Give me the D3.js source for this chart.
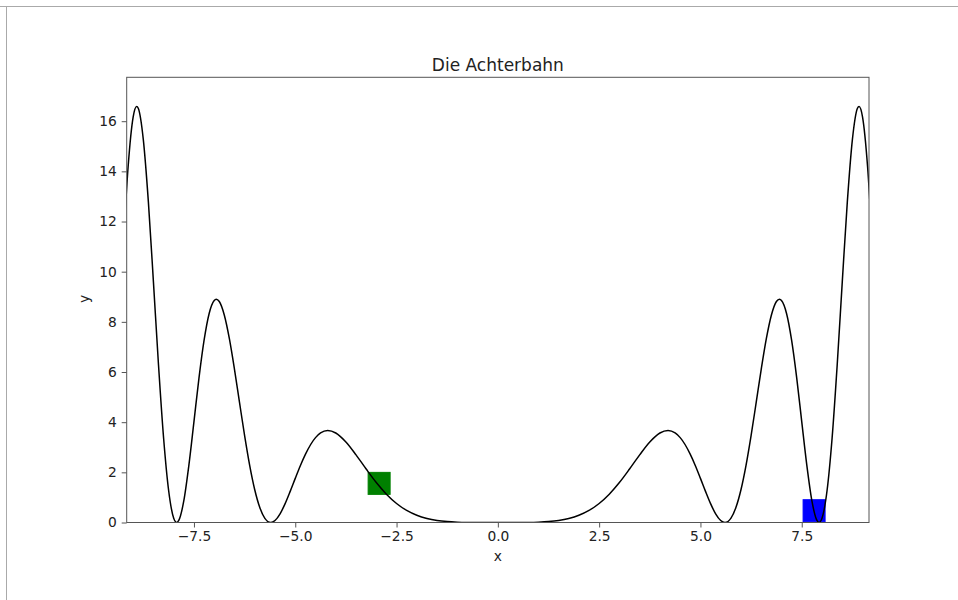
<!DOCTYPE html>
<html>
<head>
<meta charset="utf-8">
<script src="https://cdn.jsdelivr.net/npm/d3@7"></script>
<style>
  body { margin: 0; background: #fff; }
  text { font-family: "DejaVu Sans", sans-serif; fill: #222; }
</style>
</head>
<body>
<svg id="chart"></svg>
<script>
// curve
var xValues = [
  -9.25, -9.125, -9.0, -8.915, -8.875, -8.75, -8.625, -8.5, -8.375, -8.25, -8.125, -8.0,
  -7.927, -7.875, -7.75, -7.625, -7.5, -7.375, -7.25, -7.125, -7.0, -6.95, -6.875, -6.75,
  -6.625, -6.5, -6.375, -6.25, -6.125, -6.0, -5.875, -5.75, -5.605, -5.5, -5.375, -5.25,
  -5.125, -5.0, -4.875, -4.75, -4.5, -4.375, -4.2, -4.0, -3.75, -3.5, -3.25, -3.0,
  -2.75, -2.5, -2.25, -2.0, -1.75, -1.5, -1.25, -1.0, -0.75, -0.5, -0.25,
  0,
  0.25, 0.5, 0.75, 1.0, 1.25, 1.5, 1.75, 2.0, 2.25, 2.5, 2.75, 3.0,
  3.25, 3.5, 3.75, 4.0, 4.2, 4.375, 4.5, 4.75, 4.875, 5.0, 5.125, 5.25,
  5.375, 5.5, 5.605, 5.75, 5.875, 6.0, 6.125, 6.25, 6.375, 6.5, 6.625, 6.75,
  6.875, 6.95, 7.0, 7.125, 7.25, 7.375, 7.5, 7.625, 7.75, 7.875, 7.927, 8.0,
  8.125, 8.25, 8.375, 8.5, 8.625, 8.75, 8.875, 8.915, 9.0, 9.125, 9.25
];
var yValues = [
  10.852, 14.187, 16.176, 16.590, 16.517, 15.267, 12.784, 9.585, 6.281, 3.380, 1.275, 0.170,
  0.000, 0.081, 0.870, 2.287, 4.022, 5.777, 7.269, 8.335, 8.852, 8.902, 8.812, 8.265,
  7.319, 6.109, 4.778, 3.463, 2.279, 1.306, 0.597, 0.166, 0.000, 0.078, 0.346, 0.751,
  1.240, 1.759, 2.265, 2.718, 3.384, 3.569, 3.667, 3.569, 3.210, 2.696, 2.132, 1.594,
  1.130, 0.759, 0.481, 0.287, 0.159, 0.080, 0.036, 0.014, 0.004, 0.001, 0.000,
  0,
  0.000, 0.001, 0.004, 0.014, 0.036, 0.080, 0.159, 0.287, 0.481, 0.759, 1.130, 1.594,
  2.132, 2.696, 3.210, 3.569, 3.667, 3.569, 3.384, 2.718, 2.265, 1.759, 1.240, 0.751,
  0.346, 0.078, 0.000, 0.166, 0.597, 1.306, 2.279, 3.463, 4.778, 6.109, 7.319, 8.265,
  8.812, 8.902, 8.852, 8.335, 7.269, 5.777, 4.022, 2.287, 0.870, 0.081, 0.000, 0.170,
  1.275, 3.380, 6.281, 9.585, 12.784, 15.267, 16.517, 16.590, 16.176, 14.187, 10.852
];

// the two cars
var cartX = [-2.93, 7.805];
var cartY = [1.56, 0.47];
var cartColors = ["#008000", "#0000ff"];

var xTicks = [-7.5, -5, -2.5, 0, 2.5, 5, 7.5];
var yTicks = [0, 2, 4, 6, 8, 10, 12, 14, 16];
var xDomain = [-9.16, 9.16];
var yDomain = [0, 17.75];

var width = 958, height = 600;
var plotLeft = 126.7, plotRight = 869, plotTop = 77.3, plotBottom = 522.5;

var svg = d3.select("#chart")
    .attr("width", width)
    .attr("height", height);

// frame of the screenshot
svg.append("line")
    .attr("x1", 0).attr("x2", width)
    .attr("y1", 6.5).attr("y2", 6.5)
    .attr("stroke", "#aaa");
svg.append("line")
    .attr("x1", 6.5).attr("x2", 6.5)
    .attr("y1", 6.5).attr("y2", height)
    .attr("stroke", "#aaa");

var x = d3.scaleLinear().domain(xDomain).range([plotLeft, plotRight]);
var y = d3.scaleLinear().domain(yDomain).range([plotBottom, plotTop]);

svg.append("clipPath")
    .attr("id", "plot-clip")
  .append("rect")
    .attr("x", plotLeft)
    .attr("y", plotTop)
    .attr("width", plotRight - plotLeft)
    .attr("height", plotBottom - plotTop);

var plot = svg.append("g").attr("clip-path", "url(#plot-clip)");

var size = 22;
plot.selectAll(".cart")
    .data(cartX)
  .enter()
  .append("rect")
    .classed("cart", true)
    .attr("x", d => x(d) - size / 2)
    .attr("y", (d, i) => y(cartY[i]) - size / 2)
    .attr("width", size)
    .attr("height", size)
    .attr("fill", (d, i) => cartColors[i])
    .attr("stroke", (d, i) => cartColors[i]);

var line = d3.line()
    .x(d => x(d))
    .y((d, i) => y(yValues[i]))
    .curve(d3.curveMonotoneX);

plot.append("path")
    .datum(xValues)
    .attr("d", line)
    .attr("fill", "none")
    .attr("stroke", "#000")
    .attr("stroke-width", 1.5);

var xAxis = svg.append("g")
    .attr("transform", "translate(0," + plotBottom + ")")
    .call(d3.axisBottom(x)
      .tickValues(xTicks)
      .tickFormat(d3.format(".1f"))
      .tickSize(5)
      .tickPadding(4));

var yAxis = svg.append("g")
    .attr("transform", "translate(" + plotLeft + ",0)")
    .call(d3.axisLeft(y)
      .tickValues(yTicks)
      .tickSize(5)
      .tickPadding(5));

[xAxis, yAxis].forEach(a => {
  a.select(".domain").remove();
  a.selectAll(".tick line").attr("stroke", "#555");
  a.selectAll(".tick text")
      .attr("font-size", "13.8px")
      .attr("font-family", "DejaVu Sans, sans-serif")
      .attr("fill", "#222");
});

svg.append("rect")
    .attr("x", plotLeft)
    .attr("y", plotTop)
    .attr("width", plotRight - plotLeft)
    .attr("height", plotBottom - plotTop)
    .attr("fill", "none")
    .attr("stroke", "#555");

svg.append("text")
    .attr("x", (plotLeft + plotRight) / 2)
    .attr("y", 71)
    .attr("font-size", "17px")
    .style("text-anchor", "middle")
    .text("Die Achterbahn");

svg.append("text")
    .attr("x", (plotLeft + plotRight) / 2)
    .attr("y", 561)
    .attr("font-size", "13.8px")
    .style("text-anchor", "middle")
    .text("x");

svg.append("text")
    .attr("transform", "translate(89,299) rotate(-90)")
    .attr("font-size", "13.8px")
    .style("text-anchor", "middle")
    .text("y");
</script>
</body>
</html>
